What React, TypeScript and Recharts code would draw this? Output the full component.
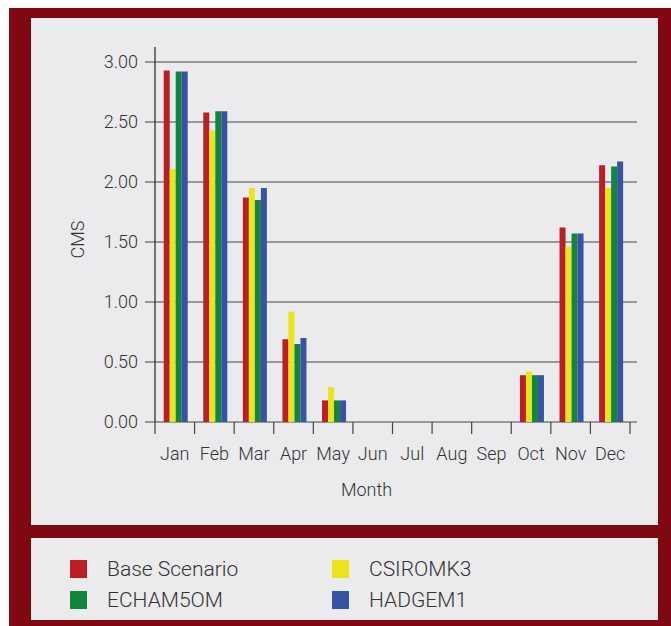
import React from 'react'
import { BarChart, Bar, XAxis, YAxis, CartesianGrid } from 'recharts'

const MONTHS = ['Jan', 'Feb', 'Mar', 'Apr', 'May', 'Jun', 'Jul', 'Aug', 'Sep', 'Oct', 'Nov', 'Dec']
const BASE = [2.93, 2.58, 1.87, 0.69, 0.18, 0, 0, 0, 0, 0.39, 1.62, 2.14]
const CSIRO = [2.11, 2.43, 1.95, 0.92, 0.29, 0, 0, 0, 0, 0.42, 1.46, 1.95]
const ECHAM = [2.92, 2.59, 1.85, 0.65, 0.18, 0, 0, 0, 0, 0.39, 1.57, 2.13]
const HADGEM = [2.92, 2.59, 1.95, 0.7, 0.18, 0, 0, 0, 0, 0.39, 1.57, 2.17]
const Y_TICKS = [0, 0.5, 1, 1.5, 2, 2.5, 3]

const SERIES = [
	{ key: 'base', name: 'Base Scenario', color: '#b91f24', values: BASE },
	{ key: 'csiro', name: 'CSIROMK3', color: '#ebe41d', values: CSIRO },
	{ key: 'echam', name: 'ECHAM5OM', color: '#12853f', values: ECHAM },
	{ key: 'hadgem', name: 'HADGEM1', color: '#3953a4', values: HADGEM },
]

const data = MONTHS.map((month, i) => {
	const row: any = { month }
	SERIES.forEach(s => { row[s.key] = s.values[i] })
	return row
})

const FONT = 'Roboto, "Liberation Sans", Arial, sans-serif'
const TEXT = '#333'
const PLOT_W = 475
const BAND = PLOT_W / MONTHS.length

const MonthTick = ({ x, y, payload, index }: any) => (
	<g>
		<line x1={x - BAND / 2} x2={x - BAND / 2} y1={y - 12} y2={y} stroke="#444" strokeWidth={1.2} />
		{index === MONTHS.length - 1 && (
			<line x1={x + BAND / 2} x2={x + BAND / 2} y1={y - 12} y2={y} stroke="#444" strokeWidth={1.2} />
		)}
		<text x={x} y={y + 26} textAnchor="middle" fill={TEXT} fontSize={18} fontFamily={FONT} fontWeight={300}>
			{payload.value}
		</text>
	</g>
)

// grid lines stick out past the plot on both sides; the plot top (3.125) gets no line
const gridLine = (props: any) => {
	if (Math.abs(props.y1 - props.y) < 1) return <g key={props.key} />
	return (
		<line key={props.key} x1={props.x1 - 10} x2={props.x2 + 7} y1={props.y1} y2={props.y2} stroke="#7c7c7c" strokeWidth={1.6} />
	)
}

export default function App() {
	return (
		<div style={{ position: 'absolute', left: 9, top: 8, width: 662, height: 618, background: '#7f0813', fontFamily: FONT }}>
			<div style={{ position: 'absolute', left: 22, top: 10, width: 627, height: 507, background: '#ebebed' }}>
				<BarChart width={627} height={507} data={data} margin={{ top: 29, right: 28, bottom: 73, left: 0 }}
					barCategoryGap="22%" barGap={0}>
					<CartesianGrid vertical={false} horizontal={gridLine} />
					<XAxis dataKey="month" height={30} tickLine={false} axisLine={false} tickSize={12} tickMargin={0} interval={0}
						tick={<MonthTick />}
						label={{
							content: ({ viewBox }: any) => (
								<text x={viewBox.x + viewBox.width / 2 - 26} y={viewBox.y + 74} textAnchor="middle"
									fill={TEXT} fontSize={18} fontFamily={FONT} fontWeight={300}>Month</text>
							),
						}} />
					<YAxis width={124} domain={[0, 3.125]} ticks={Y_TICKS} tickLine={false} tickSize={10} tickMargin={7}
						axisLine={{ stroke: '#222', strokeWidth: 1.2 }}
						tickFormatter={(v: number) => v.toFixed(2)}
						tick={{ fill: TEXT, fontSize: 18, fontFamily: FONT, fontWeight: 300 }}
						label={{
							content: ({ viewBox }: any) => {
								const cx = 46
								const cy = viewBox.y + viewBox.height / 2 + 5
								return (
									<text x={cx} y={cy} transform={`rotate(-90, ${cx}, ${cy})`} textAnchor="middle" dominantBaseline="central"
										fill={TEXT} fontSize={18} fontFamily={FONT} fontWeight={300}>CMS</text>
								)
							},
						}} />
					{SERIES.map(s => (
						<Bar key={s.key} dataKey={s.key} name={s.name} fill={s.color} isAnimationActive={false} />
					))}
				</BarChart>
			</div>
			<div style={{ position: 'absolute', left: 22, top: 530, width: 627, height: 82, background: '#ebebed' }}>
				{SERIES.map((s, i) => {
					const col = i % 2
					const row = Math.floor(i / 2)
					return (
						<div key={s.key} style={{ position: 'absolute', left: 39 + col * 262, top: 21 + row * 31, display: 'flex', alignItems: 'center' }}>
							<div style={{ width: 17, height: 18, background: s.color }} />
							<span style={{ marginLeft: 20, fontSize: 21, fontWeight: 300, color: TEXT, lineHeight: '20px' }}>{s.name}</span>
						</div>
					)
				})}
			</div>
		</div>
	)
}
